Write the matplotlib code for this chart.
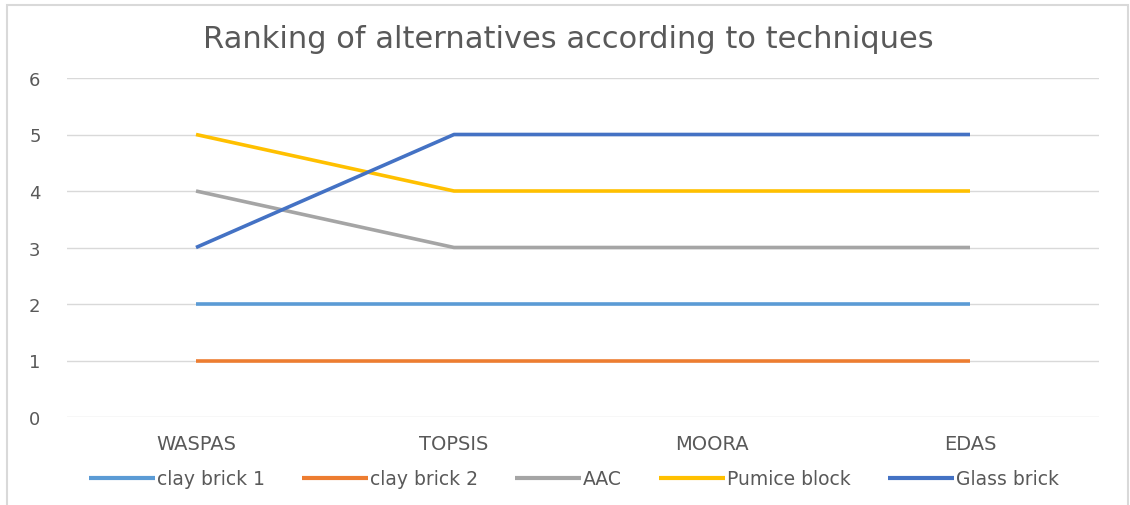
import matplotlib
matplotlib.use('Agg')
import matplotlib.pyplot as plt
from matplotlib.patches import Rectangle

# Daten
techniques = ['WASPAS', 'TOPSIS', 'MOORA', 'EDAS']
clay_brick_1 = [2, 2, 2, 2]
clay_brick_2 = [1, 1, 1, 1]
aac = [4, 3, 3, 3]
pumice_block = [5, 4, 4, 4]
glass_brick = [3, 5, 5, 5]

series = [
    ('clay brick 1', clay_brick_1, '#5B9BD5'),
    ('clay brick 2', clay_brick_2, '#ED7D31'),
    ('AAC', aac, '#A5A5A5'),
    ('Pumice block', pumice_block, '#FFC000'),
    ('Glass brick', glass_brick, '#4472C4'),
]

C_TEXT = '#595959'
C_GRID = '#D9D9D9'

plt.rcParams['font.family'] = ['DejaVu Sans']

fig = plt.figure(figsize=(11.30, 5.06), dpi=100)
ax = fig.add_axes([67 / 1130, 1 - 418 / 506, (1099 - 67) / 1130, (418 - 79) / 506])

x = list(range(len(techniques)))
for name, vals, col in series:
    ax.plot(x, vals, color=col, lw=2.6, label=name, solid_capstyle='butt', zorder=3)

ax.set_xlim(-0.5, len(techniques) - 0.5)
ax.set_ylim(0, 6)
ax.set_yticks(range(0, 7))
ax.set_xticks(x)
ax.set_xticklabels(techniques)
ax.yaxis.grid(True, color=C_GRID, lw=1)
ax.set_axisbelow(True)
for s in ax.spines.values():
    s.set_visible(False)
ax.tick_params(length=0, colors=C_TEXT)
ax.tick_params(axis='y', pad=19, labelsize=13)
ax.tick_params(axis='x', pad=12, labelsize=14)

fig.text(568 / 1130, 1 - 40 / 506, 'Ranking of alternatives according to techniques',
         ha='center', va='center', fontsize=22, color=C_TEXT)

leg = fig.legend(loc='center', bbox_to_anchor=(574 / 1130, 1 - 480 / 506), ncol=5,
                 frameon=False, fontsize=13.5, handlelength=3.5, handletextpad=0.1,
                 columnspacing=2.0, labelcolor=C_TEXT)
for h in leg.legend_handles:
    h.set_linewidth(3)

# Rahmen
fig.patches.append(Rectangle((7 / 1130, -0.05), (1128 - 7) / 1130, 1.05 - 6 / 506,
                             transform=fig.transFigure, fill=False,
                             edgecolor=C_GRID, lw=1.5))

fig.savefig('out.png', dpi=100)
